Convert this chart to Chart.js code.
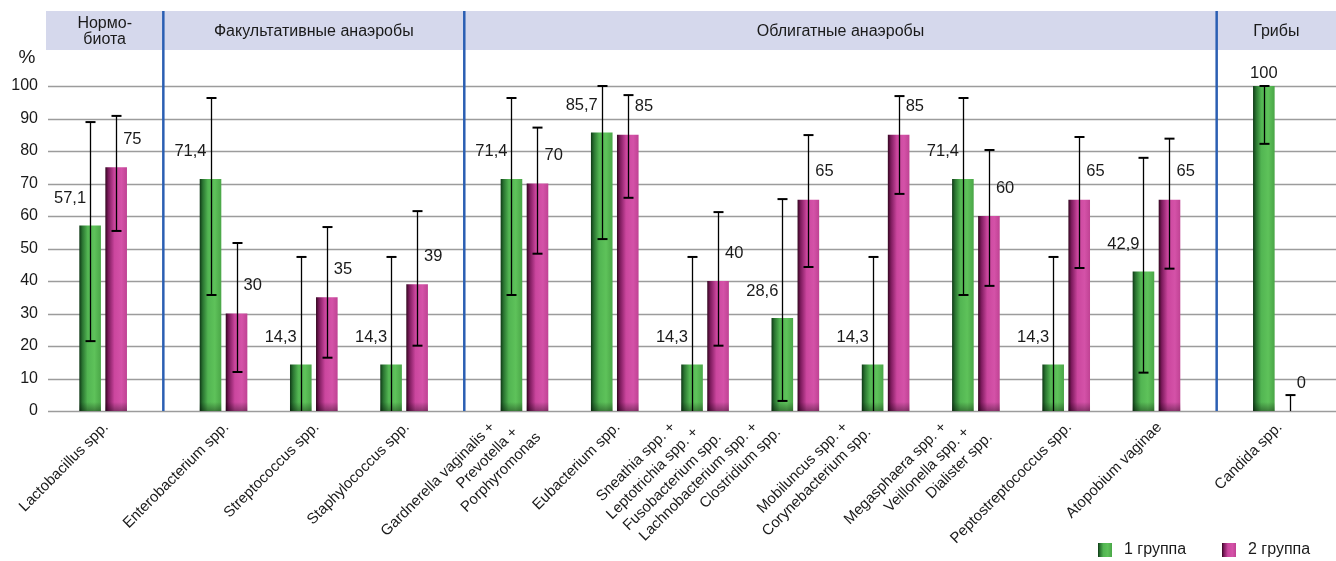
<!DOCTYPE html>
<html>
<head>
<meta charset="utf-8">
<script src="https://cdn.jsdelivr.net/npm/chart.js@4.4.0/dist/chart.umd.min.js"></script>
<style>
  body { margin: 0; background: #fff; }
  canvas { display: block; }
</style>
</head>
<body>
<canvas id="chart" width="1336" height="561"></canvas>
<script>
// Categories (multi-line labels), in section order
const categories = [
  ['Lactobacillus spp.'],
  ['Enterobacterium spp.'],
  ['Streptococcus spp.'],
  ['Staphylococcus spp.'],
  ['Gardnerella vaginalis +', 'Prevotella +', 'Porphyromonas'],
  ['Eubacterium spp.'],
  ['Sneathia spp. +', 'Leptotrichia spp. +', 'Fusobacterium spp.'],
  ['Lachnobacterium spp. +', 'Clostridium spp.'],
  ['Mobiluncus spp. +', 'Corynebacterium spp.'],
  ['Megasphaera spp. +', 'Veillonella spp. +', 'Dialister spp.'],
  ['Peptostreptococcus spp.'],
  ['Atopobium vaginae'],
  ['Candida spp.']
];
const sectionNames = [['Нормо-', 'биота'], ['Факультативные анаэробы'], ['Облигатные анаэробы'], ['Грибы']];
const sectionSizes = [1, 3, 8, 1];

const seriesNames = ['1 группа', '2 группа'];
const group1 = [57.1, 71.4, 14.3, 14.3, 71.4, 85.7, 14.3, 28.6, 14.3, 71.4, 14.3, 42.9, 100];
const group2 = [75, 30, 35, 39, 70, 85, 40, 65, 85, 60, 65, 65, 0];
// confidence intervals
const group1Low  = [21.5, 35.7, 0, 0, 35.7, 52.9, 0, 3.1, 0, 35.7, 0, 11.8, 82.2];
const group1High = [88.9, 96.3, 47.4, 47.4, 96.3, 100, 47.4, 65.2, 47.4, 96.3, 47.4, 77.9, 100];
const group2Low  = [55.4, 12.0, 16.4, 20.1, 48.4, 65.6, 20.1, 44.3, 66.8, 38.5, 44.0, 43.8, 0];
const group2High = [90.8, 51.7, 56.6, 61.5, 87.2, 97.2, 61.2, 84.9, 96.9, 80.3, 84.3, 83.8, 4.9];

const yTicks = [0, 10, 20, 30, 40, 50, 60, 70, 80, 90, 100];

const FONT = "'Liberation Sans', Arial, Helvetica, sans-serif";
const TEXT = '#1a1a1a';
const CAT_PCT = 1.73, BAR_PCT = 0.83;

const barStops = [
  [[0, '#0f3816'], [0.14, '#2a7431'], [0.38, '#52b552'], [0.7, '#5ec25a'], [1, '#4aa647']],
  [[0, '#33061f'], [0.14, '#7c1a5c'], [0.42, '#cb469e'], [0.75, '#d452a8'], [1, '#bf4293']]
];
const solid = ['#55b552', '#cc469e'];

// each category takes 3 slots on the x axis, each section break one more slot
const slotLabels = [];
const slotOf = [];
const sepSlots = [];
let ci = 0;
sectionSizes.forEach((n, s) => {
  if (s > 0) { sepSlots.push(slotLabels.length); slotLabels.push(''); }
  for (let k = 0; k < n; k++, ci++) {
    slotLabels.push('');
    slotOf.push(slotLabels.length);
    slotLabels.push(categories[ci].join(' '));
    slotLabels.push('');
  }
});

function spread(values) {
  const out = slotLabels.map(() => null);
  values.forEach((v, i) => { out[slotOf[i]] = v; });
  return out;
}

function barGradient(c) {
  if (c.type !== 'data') return solid[c.datasetIndex];
  const chart = c.chart;
  const xs = chart.scales.x;
  if (!xs || !(xs.width > 0)) return solid[c.datasetIndex];
  const w = xs.width / slotLabels.length;
  const chunk = w * CAT_PCT / 2;
  const cx = xs.getPixelForValue(c.dataIndex) + (c.datasetIndex - 0.5) * chunk;
  const half = chunk * BAR_PCT / 2;
  if (!isFinite(cx) || !isFinite(half)) return solid[c.datasetIndex];
  const g = chart.ctx.createLinearGradient(cx - half, 0, cx + half, 0);
  barStops[c.datasetIndex].forEach(([o, col]) => g.addColorStop(o, col));
  return g;
}

function fill(ctx, x, y, w, h, idx) {
  const g = ctx.createLinearGradient(x, 0, x + w, 0);
  barStops[idx].forEach(([o, col]) => g.addColorStop(o, col));
  ctx.fillStyle = g;
  ctx.fillRect(x, y, w, h);
}

// band with section names, grid lines and blue section dividers
const backdrop = {
  id: 'backdrop',
  beforeDatasetsDraw(chart) {
    const { ctx, scales: { x, y }, width } = chart;
    ctx.save();
    ctx.fillStyle = '#d5d8ec';
    ctx.fillRect(46, 11, width - 46, 39);

    ctx.strokeStyle = '#9c9c9c';
    ctx.lineWidth = 1.3;
    yTicks.forEach(v => {
      const py = Math.round(y.getPixelForValue(v)) + 0.5;
      ctx.beginPath(); ctx.moveTo(48, py); ctx.lineTo(width, py); ctx.stroke();
    });

    const seps = sepSlots.map(s => x.getPixelForValue(s));
    ctx.strokeStyle = '#2b5fb3';
    ctx.lineWidth = 2.5;
    seps.forEach(px => {
      ctx.beginPath(); ctx.moveTo(px, 11); ctx.lineTo(px, y.getPixelForValue(0)); ctx.stroke();
    });

    const bounds = [46, ...seps, width];
    ctx.fillStyle = TEXT;
    ctx.font = '16px ' + FONT;
    ctx.textAlign = 'center';
    ctx.textBaseline = 'middle';
    sectionNames.forEach((lines, i) => {
      const cx = (bounds[i] + bounds[i + 1]) / 2;
      const top = 32 - (lines.length - 1) * 8;
      lines.forEach((t, j) => ctx.fillText(t, cx, top + j * 16));
    });
    ctx.restore();
  },
  afterDatasetsDraw(chart) {
    const { ctx, scales: { x, y } } = chart;
    const lows = [group1Low, group2Low];
    const highs = [group1High, group2High];
    const vals = [group1, group2];
    ctx.save();

    // dark foot of each bar
    [0, 1].forEach(d => {
      chart.getDatasetMeta(d).data.forEach(el => {
        if (el.skip || !(el.base - el.y >= 1)) return;
        const h = Math.min(9, el.base - el.y);
        const g = ctx.createLinearGradient(0, el.base - h, 0, el.base);
        g.addColorStop(0, 'rgba(0,0,0,0)');
        g.addColorStop(1, 'rgba(0,0,0,0.35)');
        ctx.fillStyle = g;
        ctx.fillRect(el.x - el.width / 2, el.base - h, el.width, h);
      });
    });

    // error bars
    ctx.strokeStyle = '#000';
    [0, 1].forEach(d => {
      const meta = chart.getDatasetMeta(d);
      vals[d].forEach((v, i) => {
        const el = meta.data[slotOf[i]];
        const px = Math.round(el.x) + 0.5;
        const lo = y.getPixelForValue(lows[d][i]);
        const hi = y.getPixelForValue(highs[d][i]);
        ctx.lineWidth = 1.3;
        ctx.beginPath(); ctx.moveTo(px, lo); ctx.lineTo(px, hi); ctx.stroke();
        ctx.lineWidth = 2;
        [[lows[d][i], lo], [highs[d][i], hi]].forEach(([val, py]) => {
          if (val <= 0) return;
          ctx.beginPath(); ctx.moveTo(px - 5, py); ctx.lineTo(px + 5, py); ctx.stroke();
        });
      });
    });

    // value labels
    ctx.fillStyle = TEXT;
    ctx.font = '16.5px ' + FONT;
    ctx.textBaseline = 'middle';
    [0, 1].forEach(d => {
      const meta = chart.getDatasetMeta(d);
      vals[d].forEach((v, i) => {
        const el = meta.data[slotOf[i]];
        const txt = String(v).replace('.', ',');
        const top = y.getPixelForValue(v);
        if (d === 0 && v >= 100) {
          ctx.textAlign = 'center';
          ctx.fillText(txt, el.x, top - 13);
        } else if (d === 0) {
          ctx.textAlign = 'right';
          ctx.fillText(txt, el.x - 4, top - 27);
        } else {
          ctx.textAlign = 'left';
          ctx.fillText(txt, el.x + 7, top - 28);
        }
      });
    });

    // category labels, rotated 45°
    ctx.font = '15px ' + FONT;
    ctx.textAlign = 'right';
    ctx.textBaseline = 'middle';
    const baseY = y.getPixelForValue(0) + 14;
    categories.forEach((lines, i) => {
      const px = x.getPixelForValue(slotOf[i]);
      const first = lines.length === 1 ? 3 : (lines.length === 2 ? -40 : -32);
      lines.forEach((t, j) => {
        ctx.save();
        ctx.translate(px + first + j * 23, baseY + j * 5);
        ctx.rotate(-Math.PI / 4);
        ctx.fillText(t, 0, 0);
        ctx.restore();
      });
    });

    // axis unit
    ctx.font = '19px ' + FONT;
    ctx.textAlign = 'center';
    ctx.fillText('%', 27, 58);

    // legend
    ctx.font = '16px ' + FONT;
    ctx.textAlign = 'left';
    const legX = [1098, 1222];
    seriesNames.forEach((name, d) => {
      fill(ctx, legX[d], 543, 14, 14, d);
      ctx.fillStyle = TEXT;
      ctx.fillText(name, legX[d] + 26, 550);
    });
    ctx.restore();
  }
};

new Chart(document.getElementById('chart'), {
  type: 'bar',
  data: {
    labels: slotLabels,
    datasets: [
      { label: seriesNames[0], data: spread(group1), backgroundColor: barGradient },
      { label: seriesNames[1], data: spread(group2), backgroundColor: barGradient }
    ]
  },
  options: {
    responsive: false,
    animation: false,
    events: [],
    categoryPercentage: CAT_PCT,
    barPercentage: BAR_PCT,
    layout: { padding: { top: 86, right: 14, bottom: 0, left: 0 } },
    plugins: {
      legend: { display: false },
      tooltip: { enabled: false }
    },
    scales: {
      x: {
        afterFit: s => { s.height = 150; },
        grid: { display: false, drawTicks: false },
        border: { display: false },
        ticks: { display: false, autoSkip: false }
      },
      y: {
        min: 0,
        max: 100,
        afterFit: s => { s.width = 58; },
        afterBuildTicks: s => { s.ticks = yTicks.map(v => ({ value: v })); },
        grid: { display: false, drawTicks: false },
        border: { display: false },
        ticks: { padding: 20, color: TEXT, font: { family: FONT, size: 16 } }
      }
    }
  },
  plugins: [backdrop]
});
</script>
</body>
</html>
